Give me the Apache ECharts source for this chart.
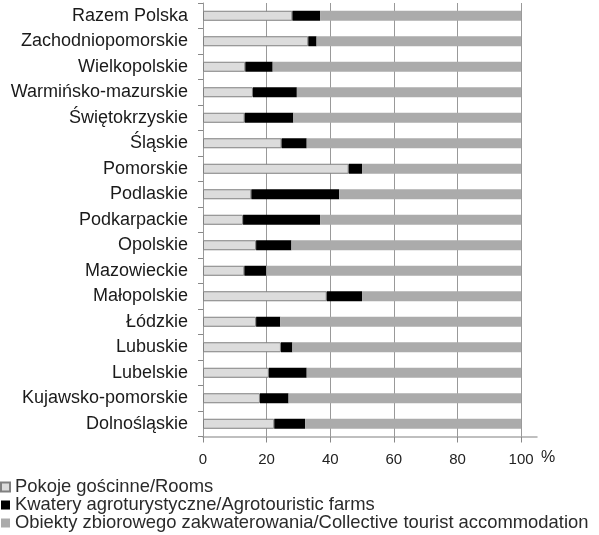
<!DOCTYPE html>
<html>
<head>
<meta charset="utf-8">
<script src="https://cdn.jsdelivr.net/npm/echarts@6/dist/echarts.min.js"></script>
<style>
  html, body { margin: 0; padding: 0; background: #fff; }
  #main { width: 599px; height: 535px; }
</style>
</head>
<body>
<div id="main"></div>
<script>
// regiony (od góry)
var regions = ['Razem Polska', 'Zachodniopomorskie', 'Wielkopolskie', 'Warmińsko-mazurskie',
  'Świętokrzyskie', 'Śląskie', 'Pomorskie', 'Podlaskie', 'Podkarpackie', 'Opolskie',
  'Mazowieckie', 'Małopolskie', 'Łódzkie', 'Lubuskie', 'Lubelskie', 'Kujawsko-pomorskie',
  'Dolnośląskie'];

// udział w %
var rooms = [28.1, 33.1, 13.3, 15.7, 13.1, 24.7, 45.8, 15.2, 12.6, 16.7, 13.0, 38.9, 16.7, 24.5, 20.7, 17.9, 22.4];
var farms = [8.7, 2.6, 8.6, 13.8, 15.3, 7.9, 4.2, 27.6, 24.2, 11.1, 6.9, 11.1, 7.6, 3.6, 11.9, 9.0, 9.7];
var collective = [63.2, 64.3, 78.1, 70.5, 71.6, 67.4, 50.0, 57.2, 63.2, 72.2, 80.1, 50.0, 75.7, 71.9, 67.4, 73.1, 67.9];

var xTicks = [0, 20, 40, 60, 80, 100];

var seriesNames = ['Pokoje gościnne/Rooms', 'Kwatery agroturystyczne/Agrotouristic farms',
  'Obiekty zbiorowego zakwaterowania/Collective tourist accommodation'];

var font = 'Liberation Sans, Arial, sans-serif';
var chart = echarts.init(document.getElementById('main'), null, { renderer: 'canvas' });

var option = {
  animation: false,
  grid: {
    left: 203,
    top: 3,
    right: 62,
    bottom: 98.5,
    containLabel: false
  },
  legend: {
    orient: 'vertical',
    left: 0,
    top: 478,
    padding: 0,
    itemWidth: 9,
    itemHeight: 9,
    itemGap: 0,
    icon: 'rect',
    textStyle: { fontFamily: font, fontSize: 18.4, lineHeight: 18, color: '#2a2a2a' },
    data: seriesNames
  },
  xAxis: {
    type: 'value',
    min: 0,
    max: 105,
    name: '%',
    nameLocation: 'end',
    nameGap: 4,
    nameTextStyle: { fontFamily: font, fontSize: 16, color: '#222', verticalAlign: 'top', padding: [13, 0, 0, 0] },
    axisLine: { show: true, lineStyle: { color: '#aaa', width: 1.5 } },
    axisTick: { show: true, length: 6, customValues: xTicks, lineStyle: { color: '#888' } },
    axisLabel: { customValues: xTicks, margin: 16, fontFamily: font, fontSize: 15, color: '#222' },
    splitLine: { show: true, lineStyle: { color: '#999', width: 1 } }
  },
  yAxis: {
    type: 'category',
    inverse: true,
    data: regions,
    axisLine: { show: true, lineStyle: { color: '#999' } },
    axisTick: { show: true, length: 5, lineStyle: { color: '#888' } },
    axisLabel: { margin: 15, fontFamily: font, fontSize: 18, color: '#1a1a1a' }
  },
  series: [
    {
      name: seriesNames[0],
      type: 'bar',
      stack: 'all',
      barWidth: 10,
      itemStyle: { color: '#dcdcdc', borderColor: '#808080', borderWidth: 1 },
      data: rooms
    },
    {
      name: seriesNames[1],
      type: 'bar',
      stack: 'all',
      barWidth: 10,
      itemStyle: { color: '#000' },
      data: farms
    },
    {
      name: seriesNames[2],
      type: 'bar',
      stack: 'all',
      barWidth: 10,
      itemStyle: { color: '#ababab' },
      data: collective
    }
  ]
};

chart.setOption(option);
</script>
</body>
</html>
